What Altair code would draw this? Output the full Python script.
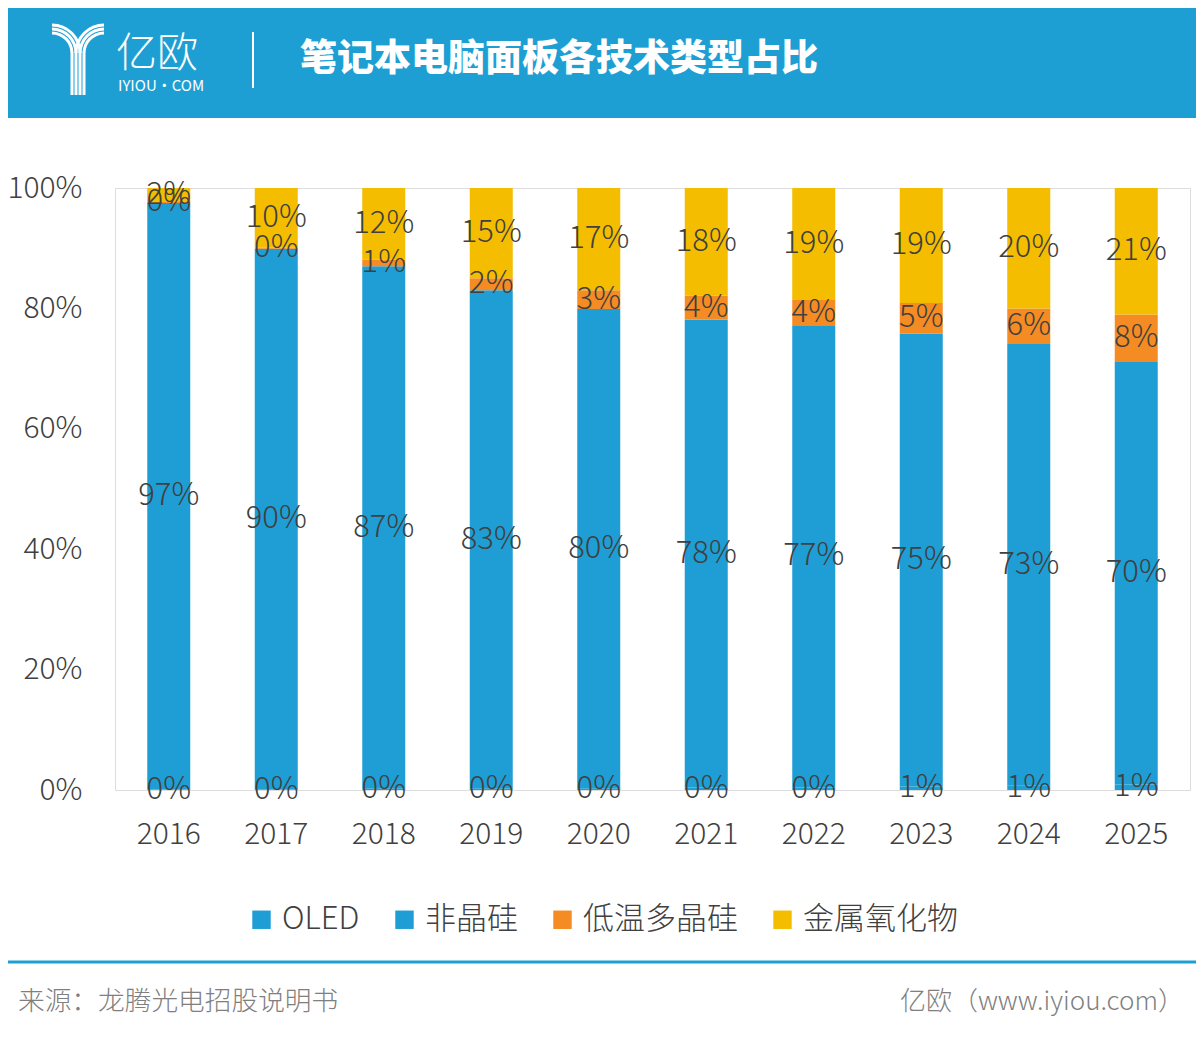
import altair as alt
import pandas as pd

years = ["2016", "2017", "2018", "2019", "2020", "2021", "2022", "2023", "2024", "2025"]
series = ["OLED", "非晶硅", "低温多晶硅", "金属氧化物"]
oled = [0.1, 0.1, 0.2, 0.2, 0.3, 0.4, 0.4, 0.6, 0.7, 0.9]
asi = [97.4, 89.8, 86.8, 82.8, 79.6, 77.7, 76.8, 75.2, 73.4, 70.2]
ltps = [0.3, 0.2, 1.1, 2.0, 3.1, 4.0, 4.2, 5.1, 5.9, 7.9]
oxide = [2.2, 9.9, 11.9, 15.0, 17.0, 17.9, 18.6, 19.1, 20.0, 21.0]
colors = ["#1E9ED4", "#1E9ED4", "#F58B23", "#F5BD00"]

title_text = "笔记本电脑面板各技术类型占比"
source_text = "来源：龙腾光电招股说明书"
site_text = "亿欧（www.iyiou.com）"

FONT = "Noto Sans CJK SC"
TXT = "#404040"
HEAD = "#1E9FD3"

rows = []
for i, y in enumerate(years):
    for k, (name, vals) in enumerate(zip(series, [oled, asi, ltps, oxide])):
        rows.append({"year": y, "series": name, "value": vals[i], "order": k})
df = pd.DataFrame(rows)

xenc = alt.X("year:N", sort=years, title=None,
             scale=alt.Scale(paddingInner=0.6, paddingOuter=0.3),
             axis=alt.Axis(labelAngle=0, labelFontSize=30, labelFont=FONT, labelFontWeight=300,
                           labelColor=TXT, ticks=False, domain=False, labelPadding=29))

base = (alt.Chart(df)
        .transform_stack(stack="value", groupby=["year"], sort=[alt.SortField("order", order="ascending")],
                         as_=["y0", "y1"], offset="normalize")
        .transform_calculate(mid="(datum.y0 + datum.y1) / 2", frac="datum.value / 100"))

bars = base.mark_bar().encode(
    x=xenc,
    y=alt.Y("y0:Q", title=None, scale=alt.Scale(domain=[0, 1], nice=False),
            axis=alt.Axis(format=".0%", values=[0, 0.2, 0.4, 0.6, 0.8, 1.0], labelFontSize=30,
                          labelFont=FONT, labelFontWeight=300, labelColor=TXT, ticks=False,
                          domain=False, grid=False, labelPadding=33)),
    y2="y1:Q",
    color=alt.Color("series:N", sort=series,
                    scale=alt.Scale(domain=series, range=colors),
                    legend=alt.Legend(orient="none", legendX=131, legendY=716, direction="horizontal",
                                      title=None, symbolType="square", symbolSize=340,
                                      symbolStrokeWidth=0, labelFontSize=31, labelFont=FONT,
                                      labelFontWeight=300, labelColor=TXT, columnPadding=29,
                                      labelOffset=5, labelLimit=0, padding=0)),
    order=alt.Order("order:Q"),
)

labels = base.mark_text(font=FONT, fontSize=31, fontWeight=300, color=TXT,
                        align="center", baseline="middle").encode(
    x=alt.X("year:N", sort=years),
    y=alt.Y("mid:Q"),
    text=alt.Text("frac:Q", format=".0%"),
)

one = pd.DataFrame({"k": [0]})
band = alt.Chart(one).mark_rect(color=HEAD).encode(
    x=alt.value(-107), x2=alt.value(1081), y=alt.value(-180), y2=alt.value(-70))

# logo: three curved strokes on each side merging into four stems
logo_layers = []
for r in [28, 24, 20]:
    logo_layers.append(alt.Chart(one).mark_arc(theta=0, theta2=1.5708, radius=r + 1.5, radius2=r - 1.5,
                                               color="white").encode(x=alt.value(-63), y=alt.value(-135)))
    logo_layers.append(alt.Chart(one).mark_arc(theta=4.7124, theta2=6.2832, radius=r + 1.5, radius2=r - 1.5,
                                               color="white").encode(x=alt.value(-11), y=alt.value(-135)))
for sx in [-43, -39, -35, -31]:
    logo_layers.append(alt.Chart(one).mark_rule(color="white", strokeWidth=3).encode(
        x=alt.value(sx), y=alt.value(-135.5), y2=alt.value(-93)))

logo_cn = alt.Chart(one).mark_text(text="亿欧", font=FONT, fontSize=41, fontWeight=300, color="white",
                                   align="left", baseline="middle").encode(
    x=alt.value(1), y=alt.value(-133))
logo_en = alt.Chart(one).mark_text(text="IYIOU·COM", font=FONT, fontSize=15, fontWeight=400, color="white",
                                   align="left", baseline="middle").encode(
    x=alt.value(3), y=alt.value(-102))
divider = alt.Chart(one).mark_rule(color="white", strokeWidth=2).encode(
    x=alt.value(138), y=alt.value(-156), y2=alt.value(-100))
title = alt.Chart(one).mark_text(text=title_text, font=FONT, fontSize=37, fontWeight=900, color="white",
                                 align="left", baseline="middle").encode(
    x=alt.value(185), y=alt.value(-128))
footer_line = alt.Chart(one).mark_rule(color=HEAD, strokeWidth=3).encode(
    x=alt.value(-107), x2=alt.value(1081), y=alt.value(774))
source = alt.Chart(one).mark_text(text=source_text, font=FONT, fontSize=26.7, fontWeight=300, color="#7F7F7F",
                                  align="left", baseline="middle").encode(
    x=alt.value(-97), y=alt.value(814))
site = alt.Chart(one).mark_text(text=site_text, font=FONT, fontSize=26, fontWeight=300, color="#7F7F7F",
                                align="right", baseline="middle").encode(
    x=alt.value(1069), y=alt.value(814))

chart = (alt.layer(bars, labels, band, *logo_layers, logo_cn, logo_en, divider, title,
                   footer_line, source, site)
         .properties(width=1075, height=602,
                     padding={"left": 107, "top": 180, "right": 6, "bottom": 242},
                     autosize=alt.AutoSizeParams(type="none"))
         .configure_view(stroke="#BFBFBF", strokeWidth=1.5)
         .configure(background="white"))

chart.save("out.html", embed_options={"renderer": "svg", "actions": False})
